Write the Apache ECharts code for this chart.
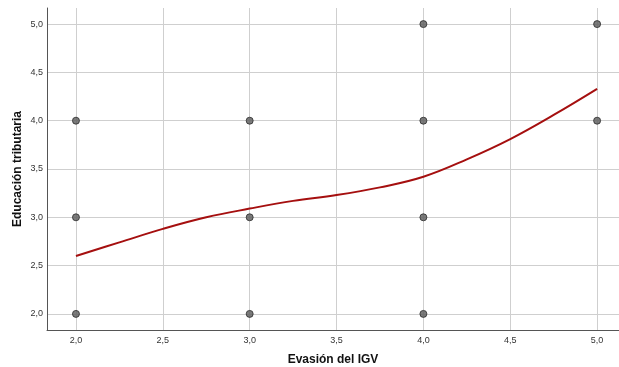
<!DOCTYPE html>
<html>
<head>
<meta charset="utf-8">
<script src="https://cdn.jsdelivr.net/npm/echarts@6/dist/echarts.min.js"></script>
<style>
  html, body { margin: 0; padding: 0; background: #fff; }
  #chart { width: 619px; height: 367px; }
</style>
</head>
<body>
<div id="chart"></div>
<script>
// Observed cases: Evasión del IGV vs Educación tributaria
const evasion = [2, 2, 2, 3, 3, 3, 4, 4, 4, 4, 5, 5];
const educacion = [2, 3, 4, 2, 3, 4, 2, 3, 4, 5, 4, 5];

// Loess fit line
const fitX = [2.0, 2.25, 2.5, 2.75, 3.0, 3.25, 3.5, 3.75, 4.0, 4.25, 4.5, 4.75, 5.0];
const fitY = [2.60, 2.74, 2.88, 3.00, 3.09, 3.17, 3.23, 3.31, 3.42, 3.60, 3.81, 4.06, 4.33];

// Tick values shown on both axes
const ticks = [2.0, 2.5, 3.0, 3.5, 4.0, 4.5, 5.0];

const fmt = v => v.toFixed(1).replace('.', ',');

const chart = echarts.init(document.getElementById('chart'), null, { renderer: 'canvas' });

const axisCommon = {
  type: 'value',
  axisLine: { show: true, onZero: false, lineStyle: { color: '#555', width: 1 } },
  axisTick: { show: false, customValues: ticks },
  axisLabel: { customValues: ticks, formatter: fmt, color: '#333', fontSize: 9, fontFamily: 'Liberation Sans, Arial, sans-serif' },
  splitLine: { show: true, lineStyle: { color: '#cfcfcf', width: 1 } },
  nameTextStyle: { color: '#111', fontSize: 12, fontWeight: 'bold', fontFamily: 'Liberation Sans, Arial, sans-serif' },
  nameLocation: 'middle',
  nameMoveOverlap: false
};

chart.setOption({
  animation: false,
  grid: { left: 47, right: 0, top: 8, bottom: 37, containLabel: false, outerBoundsMode: 'none' },
  xAxis: Object.assign({}, axisCommon, {
    min: 1.8333, max: 5.126,
    name: 'Evasión del IGV', nameGap: 24,
    axisLabel: Object.assign({}, axisCommon.axisLabel, { margin: 6 })
  }),
  yAxis: Object.assign({}, axisCommon, {
    min: 1.8333, max: 5.1667,
    name: 'Educación tributaria', nameGap: 23,
    axisLabel: Object.assign({}, axisCommon.axisLabel, { margin: 4 })
  }),
  series: [
    {
      type: 'line',
      data: fitX.map((x, i) => [x, fitY[i]]),
      smooth: 0.4,
      showSymbol: false,
      lineStyle: { color: '#a50f0f', width: 2 },
      z: 2
    },
    {
      type: 'scatter',
      data: evasion.map((x, i) => [x, educacion[i]]),
      symbol: 'circle',
      symbolSize: 7,
      itemStyle: { color: '#5a5a5a', borderColor: '#2a2a2a', borderWidth: 1 },
      z: 3
    }
  ]
});
</script>
</body>
</html>
